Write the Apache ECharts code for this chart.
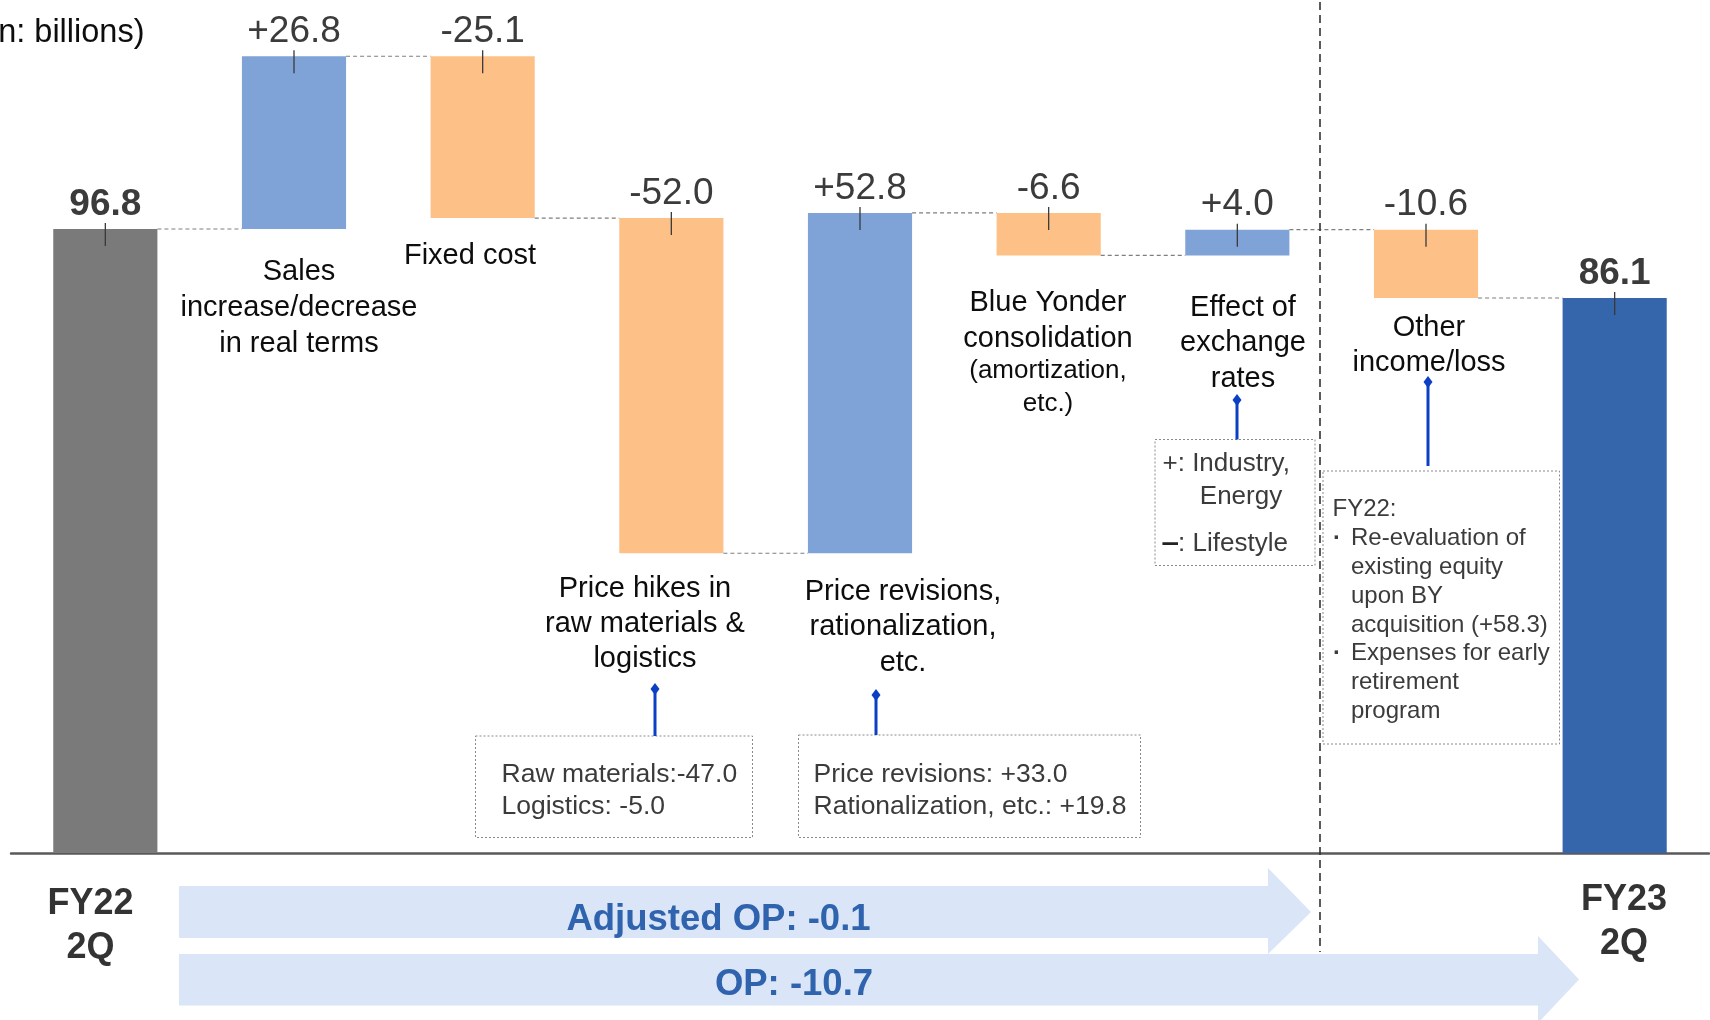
<!DOCTYPE html>
<html>
<head>
<meta charset="utf-8">
<script src="https://cdn.jsdelivr.net/npm/echarts@6/dist/echarts.min.js"></script>
<style>
  html, body { margin: 0; padding: 0; background: #ffffff; }
  #chart { width: 1710px; height: 1020px; }
</style>
</head>
<body>
<div id="chart"></div>
<script>
// ---- data (JPY billions) ----
const categories = [
  'FY22 2Q',
  'Sales increase/decrease in real terms',
  'Fixed cost',
  'Price hikes in raw materials & logistics',
  'Price revisions, rationalization, etc.',
  'Blue Yonder consolidation (amortization, etc.)',
  'Effect of exchange rates',
  'Other income/loss',
  'FY23 2Q'
];
const startValue = 96.8;
const deltas = [26.8, -25.1, -52.0, 52.8, -6.6, 4.0, -10.6];
const endValue = 86.1;

// caption lines written under each step
const captionLines = [
  null,
  ['Sales', 'increase/decrease', 'in real terms'],
  ['Fixed cost'],
  ['Price hikes in', 'raw materials &', 'logistics'],
  ['Price revisions,', 'rationalization,', 'etc.'],
  ['Blue Yonder', 'consolidation'],
  ['Effect of', 'exchange', 'rates'],
  ['Other', 'income/loss'],
  null
];
const captionSmallLines = [null, null, null, null, null, ['(amortization,', 'etc.)'], null, null, null];

// breakdown notes
const noteRawMaterials = ['Raw materials:-47.0', 'Logistics: -5.0'];
const notePriceRevisions = ['Price revisions: +33.0', 'Rationalization, etc.: +19.8'];
const noteExchange = ['+: Industry,', 'Energy', ': Lifestyle'];
const noteOtherTitle = 'FY22:';
const noteOtherLines = ['Re-evaluation of', 'existing equity', 'upon BY', 'acquisition (+58.3)', 'Expenses for early', 'retirement', 'program'];
const noteOtherBullets = [0, 4];

const periodLabels = [['FY22', '2Q'], ['FY23', '2Q']];
const adjustedOpText = 'Adjusted OP: -0.1';
const opText = 'OP: -10.7';
const unitText = '(Yen: billions)';

// ---- derived waterfall geometry in value space ----
const steps = [];
(function build() {
  let level = startValue;
  steps.push([0, 0, startValue, startValue, 0]);
  deltas.forEach((d, k) => {
    const from = level;
    level = Math.round((level + d) * 10) / 10;
    steps.push([k + 1, Math.min(from, level), Math.max(from, level), d, d >= 0 ? 1 : 2]);
  });
  steps.push([deltas.length + 1, 0, endValue, endValue, 3]);
})();

const FONT = '"Liberation Sans", Arial, Helvetica, sans-serif';
const barFill = ['#7a7a7a', '#7fa3d6', '#fdc187', '#3566ab'];

function fmtLabel(v, kind) {
  if (kind === 0 || kind === 3) return v.toFixed(1);
  return (v > 0 ? '+' : '') + v.toFixed(1);
}

function renderStep(params, api) {
  const i = api.value(0);
  const low = api.value(1);
  const high = api.value(2);
  const val = api.value(3);
  const kind = api.value(4);
  const pTop = api.coord([i, high]);
  const pBot = api.coord([i, low]);
  const slot = api.size([1, 0])[0];
  const bw = slot * 0.552;
  const cx = pTop[0];
  const children = [
    {
      type: 'rect',
      shape: { x: cx - bw / 2, y: pTop[1], width: bw, height: pBot[1] - pTop[1] },
      style: { fill: barFill[kind] }
    },
    {
      type: 'line',
      shape: { x1: cx, y1: pTop[1] - 6, x2: cx, y2: pTop[1] + 17 },
      style: { stroke: '#3a3a3a', lineWidth: 1.3 },
      z2: 5
    },
    {
      type: 'text',
      style: {
        text: fmtLabel(val, kind),
        x: cx, y: pTop[1] - 6,
        align: 'center', verticalAlign: 'bottom',
        font: (kind === 0 || kind === 3 ? 'bold ' : '') + '37px ' + FONT,
        fill: '#3b3b3b'
      }
    }
  ];
  if (i < steps.length - 1) {
    const endLevel = kind === 2 ? low : high;
    const a = api.coord([i, endLevel]);
    const b = api.coord([i + 1, endLevel]);
    children.push({
      type: 'line',
      shape: { x1: cx + bw / 2, y1: a[1], x2: b[0] - bw / 2, y2: a[1] },
      style: { stroke: '#7f7f7f', lineWidth: 1.2, lineDash: [4, 3] }
    });
  }
  return { type: 'group', children };
}

// ---- static annotations (pixel layout) ----
const g = [];
function txt(x, y, text, size, opts) {
  opts = opts || {};
  const style = {
    text: text,
    align: opts.align || 'center', verticalAlign: 'middle',
    font: (opts.bold ? 'bold ' : '') + size + 'px ' + FONT,
    fill: opts.fill || '#0d0d0d'
  };
  if (opts.rich) style.rich = opts.rich;
  g.push({ type: 'text', x: x, y: y + size * 0.09, z: 10, style: style });
}
function dottedBox(x, y, w, h) {
  g.push({
    type: 'rect', z: 9,
    shape: { x: x, y: y, width: w, height: h },
    style: { fill: 'none', stroke: '#8a8a8a', lineWidth: 1, lineDash: [2, 2] }
  });
}
function pin(x, yTop, yBot) {
  g.push({
    type: 'line', z: 9,
    shape: { x1: x, y1: yTop, x2: x, y2: yBot },
    style: { stroke: '#0b3fc4', lineWidth: 3 }
  });
  g.push({
    type: 'polygon', z: 9,
    shape: { points: [[x, yTop - 6], [x + 4.5, yTop], [x, yTop + 6], [x - 4.5, yTop]] },
    style: { fill: '#0b3fc4' }
  });
}

// captions
const captionPos = [null, [299, 269, 36], [470, 253, 36], [645, 586, 35], [903, 589, 35.5], [1048, 300, 36], [1243, 305, 35.5], [1429, 325, 35], null];
captionLines.forEach((lines, i) => {
  if (!lines) return;
  const p = captionPos[i];
  lines.forEach((s, k) => txt(p[0], p[1] + k * p[2], s, 29));
});
captionSmallLines.forEach((lines, i) => {
  if (!lines) return;
  lines.forEach((s, k) => txt(1048, 368.6 + k * 32.5, s, 26));
});

// unit note (partly outside the left edge)
txt(144.5, 30, unitText, 32.5, { align: 'right' });

// period labels
periodLabels[0].forEach((s, k) => txt(90.5, 901 + k * 43.5, s, 36, { bold: true, fill: '#333333' }));
periodLabels[1].forEach((s, k) => txt(1624, 897 + k * 44, s, 36, { bold: true, fill: '#333333' }));

// boundary between adjusted OP items and other income
g.push({
  type: 'line', z: 8,
  shape: { x1: 1320, y1: 2, x2: 1320, y2: 952 },
  style: { stroke: '#333333', lineWidth: 1.6, lineDash: [8, 5] }
});

// breakdown notes
dottedBox(475.5, 736, 277, 101.5);
pin(655, 689, 736);
noteRawMaterials.forEach((s, k) => txt(501.5, 772 + k * 32.5, s, 26.5, { align: 'left', fill: '#3b3b3b' }));

dottedBox(798.5, 735, 342, 102.5);
pin(876, 695, 735);
notePriceRevisions.forEach((s, k) => txt(813.5, 772 + k * 32.5, s, 26.5, { align: 'left', fill: '#3b3b3b' }));

dottedBox(1155, 439.5, 160, 126);
pin(1237, 400, 439.5);
txt(1162.5, 461, noteExchange[0], 26, { align: 'left', fill: '#3b3b3b' });
txt(1241, 494, noteExchange[1], 26, { fill: '#3b3b3b' });
txt(1162.5, 541, '{m|\u2012}' + noteExchange[2], 26, {
  align: 'left', fill: '#3b3b3b',
  rich: { m: { font: 'bold 28px ' + FONT, fill: '#222222' } }
});

dottedBox(1323, 471, 236.5, 273);
pin(1428, 382, 466);
txt(1332.5, 507, noteOtherTitle, 24, { align: 'left', fill: '#3b3b3b' });
noteOtherLines.forEach((s, k) => {
  const y = 536.6 + k * 28.75;
  txt(1351, y, s, 24, { align: 'left', fill: '#3b3b3b' });
  if (noteOtherBullets.indexOf(k) >= 0) txt(1337, y, '\u00b7', 24, { fill: '#3b3b3b', bold: true });
});

// operating profit arrows
g.push({
  type: 'polygon', z: 1,
  shape: { points: [[179, 886], [1268, 886], [1268, 868], [1311, 912], [1268, 954], [1268, 938], [179, 938]] },
  style: { fill: '#dae6f7' }
});
g.push({
  type: 'polygon', z: 1,
  shape: { points: [[179, 954], [1538, 954], [1538, 936], [1579, 979.5], [1538, 1023], [1538, 1005.5], [179, 1005.5]] },
  style: { fill: '#dae6f7' }
});
txt(718.5, 917, adjustedOpText, 36.5, { bold: true, fill: '#2f63ad' });
txt(794, 982, opText, 36.5, { bold: true, fill: '#2f63ad' });

// ---- chart ----
const chart = echarts.init(document.getElementById('chart'), null, { renderer: 'canvas' });
chart.setOption({
  animation: false,
  backgroundColor: '#ffffff',
  grid: { left: 11, right: 1, top: 15, bottom: 167 },
  xAxis: {
    type: 'category',
    data: categories,
    axisLine: { show: true, lineStyle: { color: '#595959', width: 2.5 } },
    axisTick: { show: false },
    axisLabel: { show: false },
    splitLine: { show: false }
  },
  yAxis: {
    type: 'value', min: 0, max: 130,
    show: false,
    splitLine: { show: false }
  },
  series: [{
    type: 'custom',
    renderItem: renderStep,
    encode: { x: 0, y: [1, 2] },
    data: steps,
    z: 2
  }],
  graphic: g
});
</script>
</body>
</html>
